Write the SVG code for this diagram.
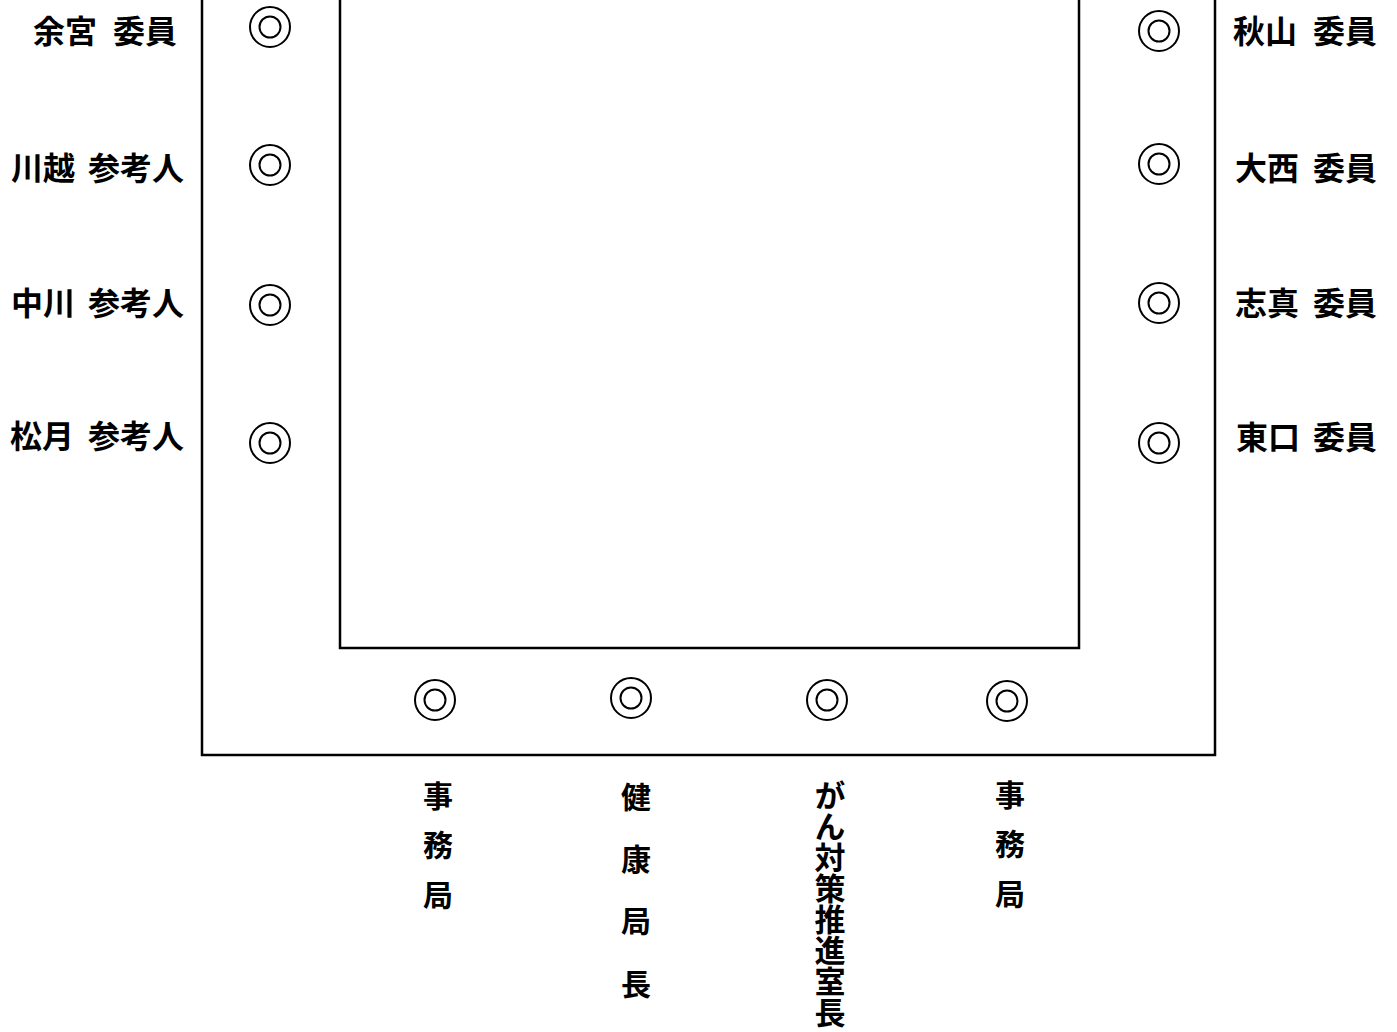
<svg xmlns="http://www.w3.org/2000/svg" width="1397" height="1032" viewBox="0 0 1397 1032">
<style>
.ln{fill:none;stroke:#000;stroke-width:2.5}
.lb{font-family:"Noto Sans CJK JP","Noto Sans CJK SC",sans-serif;font-size:32px;font-weight:700;fill:#000}
.vt{font-family:"Noto Sans CJK JP","Noto Sans CJK SC",sans-serif;font-size:30px;font-weight:700;fill:#000;text-anchor:middle}
.vr{font-family:"Noto Sans CJK JP","Noto Sans CJK SC",sans-serif;font-size:31px;font-weight:700;fill:#000;writing-mode:vertical-rl}
</style>
<defs>
<g id="seatmark" fill="none" stroke="#000" stroke-width="2"><circle r="20"/><circle r="10.5"/></g>
</defs>
<rect width="1397" height="1032" fill="#fff"/>
<g id="tables">
<polyline class="ln" points="202,0 202,755 1215,755 1215,0"/>
<polyline class="ln" points="340,0 340,648 1079,648 1079,0"/>
</g>
<g id="seat-yomiya"><use href="#seatmark" x="270" y="27"/><text class="lb" x="33" y="43">余宮</text><text class="lb" x="113" y="43">委員</text></g>
<g id="seat-kawagoe"><use href="#seatmark" x="270" y="165"/><text class="lb" x="11" y="180">川越</text><text class="lb" x="88" y="180">参考人</text></g>
<g id="seat-nakagawa"><use href="#seatmark" x="270" y="305"/><text class="lb" x="11" y="315">中川</text><text class="lb" x="88" y="315">参考人</text></g>
<g id="seat-matsuzuki"><use href="#seatmark" x="270" y="443"/><text class="lb" x="10" y="448">松月</text><text class="lb" x="88" y="448">参考人</text></g>
<g id="seat-akiyama"><use href="#seatmark" x="1159" y="31"/><text class="lb" x="1233" y="43">秋山</text><text class="lb" x="1313" y="43">委員</text></g>
<g id="seat-onishi"><use href="#seatmark" x="1159" y="164"/><text class="lb" x="1235" y="180">大西</text><text class="lb" x="1313" y="180">委員</text></g>
<g id="seat-shima"><use href="#seatmark" x="1159" y="303"/><text class="lb" x="1235" y="315">志真</text><text class="lb" x="1313" y="315">委員</text></g>
<g id="seat-higashiguchi"><use href="#seatmark" x="1159" y="443"/><text class="lb" x="1236" y="449">東口</text><text class="lb" x="1313" y="449">委員</text></g>
<g id="seat-jimukyoku1"><use href="#seatmark" x="435" y="700"/><text class="vt"><tspan x="438" y="807">事</tspan><tspan x="438" y="856">務</tspan><tspan x="438" y="906">局</tspan></text></g>
<g id="seat-kenkoukyokuchou"><use href="#seatmark" x="631" y="698"/><text class="vt"><tspan x="636" y="808">健</tspan><tspan x="636" y="870">康</tspan><tspan x="636" y="932">局</tspan><tspan x="636" y="995">長</tspan></text></g>
<g id="seat-gantaisaku"><use href="#seatmark" x="827" y="700"/><text class="vr" x="830" y="780">がん対策推進室長</text></g>
<g id="seat-jimukyoku2"><use href="#seatmark" x="1007" y="701"/><text class="vt"><tspan x="1010" y="806">事</tspan><tspan x="1010" y="855">務</tspan><tspan x="1010" y="905">局</tspan></text></g>
</svg>
